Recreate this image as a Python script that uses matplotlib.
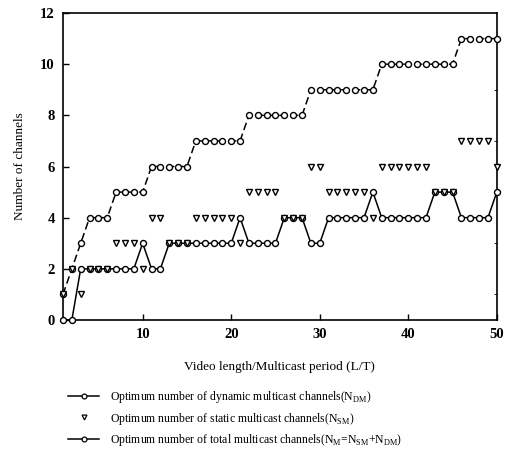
import matplotlib
matplotlib.use("Agg")
import matplotlib.pyplot as plt
from matplotlib.lines import Line2D

# L/T ratio (video length / multicast period)
ratio = list(range(1, 51))

# Optimum number of dynamic multicast channels (N_DM)
n_dynamic = [0, 0, 2, 2, 2, 2, 2, 2, 2, 3,
             2, 2, 3, 3, 3, 3, 3, 3, 3, 3,
             4, 3, 3, 3, 3, 4, 4, 4, 3, 3,
             4, 4, 4, 4, 4, 5, 4, 4, 4, 4,
             4, 4, 5, 5, 5, 4, 4, 4, 4, 5]

# Optimum number of static multicast channels (N_SM)
n_static = [1, 2, 1, 2, 2, 2, 3, 3, 3, 2,
            4, 4, 3, 3, 3, 4, 4, 4, 4, 4,
            3, 5, 5, 5, 5, 4, 4, 4, 6, 6,
            5, 5, 5, 5, 5, 4, 6, 6, 6, 6,
            6, 6, 5, 5, 5, 7, 7, 7, 7, 6]

# Optimum number of total multicast channels (N_M = N_SM + N_DM)
n_total = [1, 2, 3, 4, 4, 4, 5, 5, 5, 5,
           6, 6, 6, 6, 6, 7, 7, 7, 7, 7,
           7, 8, 8, 8, 8, 8, 8, 8, 9, 9,
           9, 9, 9, 9, 9, 9, 10, 10, 10, 10,
           10, 10, 10, 10, 10, 11, 11, 11, 11, 11]

y_ticks = [0, 2, 4, 6, 8, 10, 12]
x_ticks = [10, 20, 30, 40, 50]

labels = [
    r"Optimum number of dynamic multicast channels(N$_{\mathrm{DM}}$)",
    r"Optimum number of static multicast channels(N$_{\mathrm{SM}}$)",
    r"Optimum number of total multicast channels(N$_{\mathrm{M}}$=N$_{\mathrm{SM}}$+N$_{\mathrm{DM}}$)",
]

serif = ["Liberation Serif", "DejaVu Serif"]
plt.rcParams["font.family"] = serif
plt.rcParams["mathtext.fontset"] = "custom"
plt.rcParams["mathtext.rm"] = "Liberation Serif"

fig = plt.figure(figsize=(5.08, 4.55), dpi=100)
ax = fig.add_axes([0.124, 0.2967, 0.854, 0.6747])

mk = dict(ms=4.3, mfc="white", mec="black", mew=1.0, clip_on=False)

ax.plot(ratio, n_dynamic, "-", color="black", lw=1.1, marker="o",
        zorder=3, **mk)
ax.plot(ratio, n_static, linestyle="none", color="black", marker="v",
        zorder=4, **mk)
ax.plot(ratio, n_total, color="black", lw=1.1, linestyle=(0, (5, 2.5)),
        marker="o", zorder=3, **mk)

ax.set_xlim(1, 50)
ax.set_ylim(0, 12)
ax.set_xticks(x_ticks)
ax.set_yticks(y_ticks)
ax.set_yticks(range(0, 13), minor=True)
ax.tick_params(axis="both", which="major", direction="in", length=4,
               width=1, labelsize=10.5, pad=6)
ax.tick_params(axis="y", which="minor", direction="in", length=2,
               left=False, right=True)
for lbl in ax.get_xticklabels() + ax.get_yticklabels():
    lbl.set_fontweight("bold")
for sp in ax.spines.values():
    sp.set_linewidth(1.2)

ax.set_xlabel("Video length/Multicast period (L/T)", fontsize=9.5, labelpad=14)
ax.set_ylabel("Number of channels", fontsize=9.5, labelpad=10)

handles = [
    Line2D([], [], color="black", lw=1.1, marker="o", ms=3.5,
           mfc="white", mec="black", mew=0.9),
    Line2D([], [], linestyle="none", color="black", marker="v", ms=3.5,
           mfc="white", mec="black", mew=0.9),
    Line2D([], [], color="black", lw=1.1, marker="o", ms=3.5,
           mfc="white", mec="black", mew=0.9),
]
fig.legend(handles, labels, loc="upper left", bbox_to_anchor=(0.125, 0.155),
           frameon=False, fontsize=8.5, handlelength=2.6, handletextpad=0.9,
           labelspacing=0.45, borderaxespad=0)

fig.savefig("out.png", dpi=100)
